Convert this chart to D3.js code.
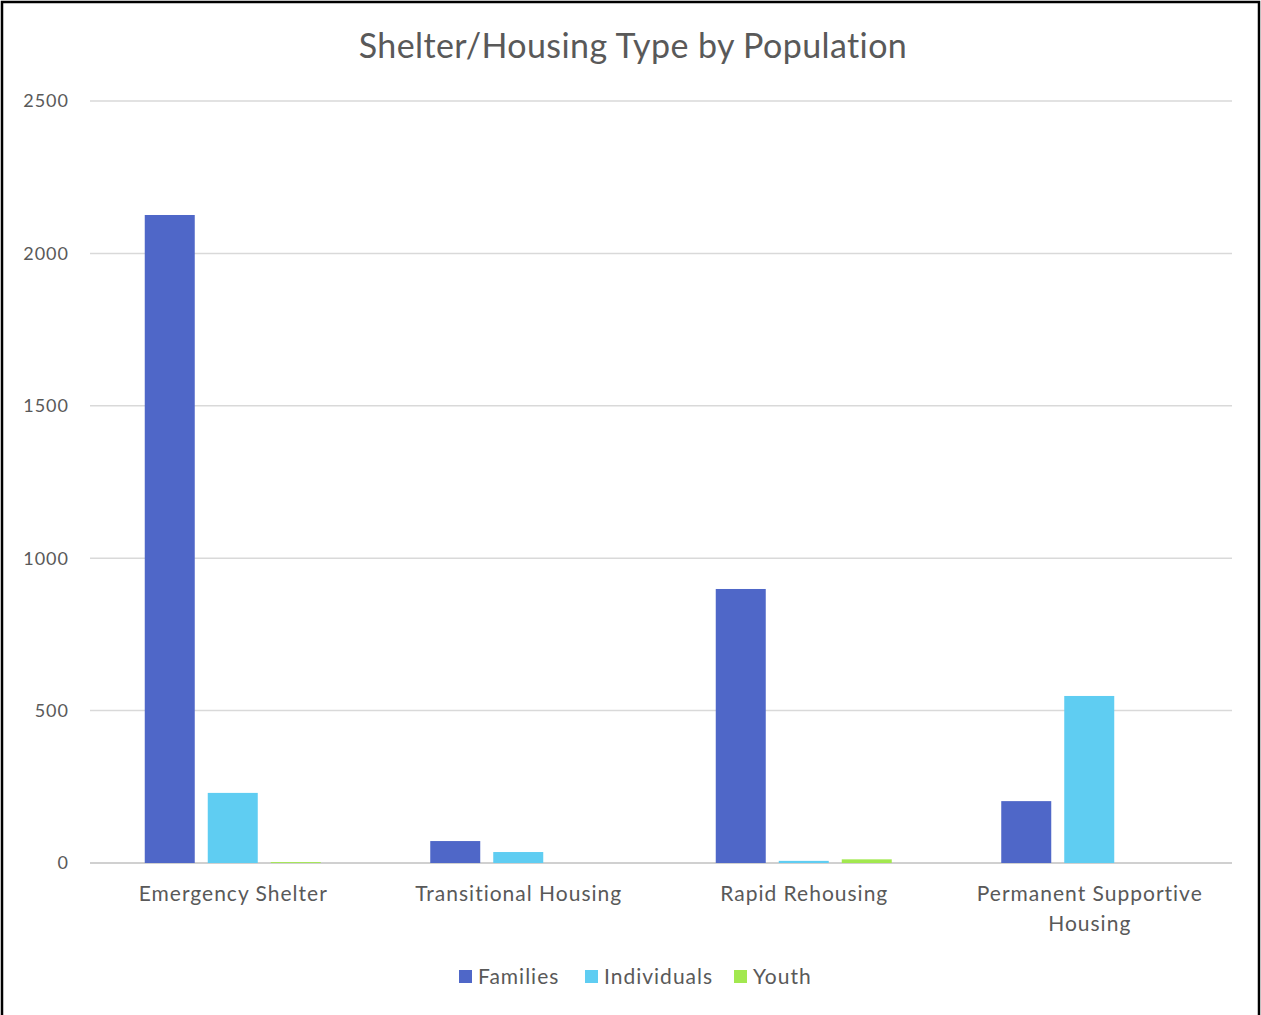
<!DOCTYPE html>
<html><head><meta charset="utf-8">
<script src="https://cdn.jsdelivr.net/npm/d3@7"></script>
<style>body{margin:0;background:#fff}svg{display:block}</style>
</head><body>
<script>
const categories = ["Emergency Shelter", "Transitional Housing", "Rapid Rehousing", "Permanent Supportive Housing"];
const series = ["Families", "Individuals", "Youth"];
const families = [2126, 72, 899, 203];
const individuals = [230, 36, 7, 548];
const youth = [3, 0, 12, 0];
const yTicks = [0, 500, 1000, 1500, 2000, 2500];
const colors = ["#4F67C8", "#5FCDF2", "#A2E84F"];

(function () {
const W = 1261, H = 1015;
const font = "Lato, 'Open Sans', sans-serif";
const svg = d3.select("body").append("svg").attr("width", W).attr("height", H);
svg.append("rect").attr("x", 2).attr("y", 2).attr("width", W - 4).attr("height", H + 10)
  .attr("fill", "#fff").attr("stroke", "#000").attr("stroke-width", 2.5);

const pLeft = 90, pRight = 1232, pTop = 101, pBottom = 863;
const y = d3.scaleLinear().domain([0, 2500]).range([pBottom, pTop]);
const x0 = d3.scaleBand().domain(categories).range([pLeft, pRight]).padding(0);
const outer = 54.75;
const x1 = d3.scaleBand().domain(series).range([outer, x0.bandwidth() - outer]).paddingInner(13 / 63).paddingOuter(0);

svg.append("text").attr("x", 633).attr("y", 58).attr("text-anchor", "middle")
  .attr("font-family", font).attr("font-size", 34).attr("letter-spacing", 0.4).attr("fill", "#595959")
  .text("Shelter/Housing Type by Population");

svg.append("g").selectAll("line").data(yTicks).join("line")
  .attr("x1", pLeft).attr("x2", pRight).attr("y1", d => y(d)).attr("y2", d => y(d))
  .attr("stroke", d => d === 0 ? "#d0d0d0" : "#d9d9d9").attr("stroke-width", d => d === 0 ? 2 : 1.5);

svg.append("g").selectAll("text").data(yTicks).join("text")
  .attr("x", 69).attr("y", d => y(d)).attr("dy", "0.35em").attr("text-anchor", "end")
  .attr("font-family", font).attr("font-size", 18).attr("letter-spacing", 1).attr("fill", "#595959").text(d => d);

const values = [families, individuals, youth];
const data = [];
categories.forEach((c, i) => series.forEach((s, j) => data.push({c, s, j, v: values[j][i]})));

svg.append("g").selectAll("rect").data(data).join("rect")
  .attr("x", d => x0(d.c) + x1(d.s)).attr("width", x1.bandwidth())
  .attr("y", d => y(d.v)).attr("height", d => pBottom - y(d.v))
  .attr("fill", d => colors[d.j]);

const xl = svg.append("g");
categories.forEach(c => {
  const cx = x0(c) + x0.bandwidth() / 2 + 0.5;
  const lines = c === "Permanent Supportive Housing" ? ["Permanent Supportive", "Housing"] : [c];
  const t = xl.append("text").attr("text-anchor", "middle").attr("font-family", font)
    .attr("font-size", 21).attr("letter-spacing", 1).attr("fill", "#595959");
  lines.forEach((l, k) => t.append("tspan").attr("x", cx).attr("y", 901 + k * 30).text(l));
});

const legX = [459, 585, 734];
const lg = svg.append("g");
series.forEach((s, i) => {
  lg.append("rect").attr("x", legX[i]).attr("y", 970).attr("width", 13).attr("height", 13).attr("fill", colors[i]);
  lg.append("text").attr("x", legX[i] + 19).attr("y", 984).attr("font-family", font)
    .attr("font-size", 21).attr("letter-spacing", 1).attr("fill", "#595959").text(s);
});
})();
</script>
</body></html>
